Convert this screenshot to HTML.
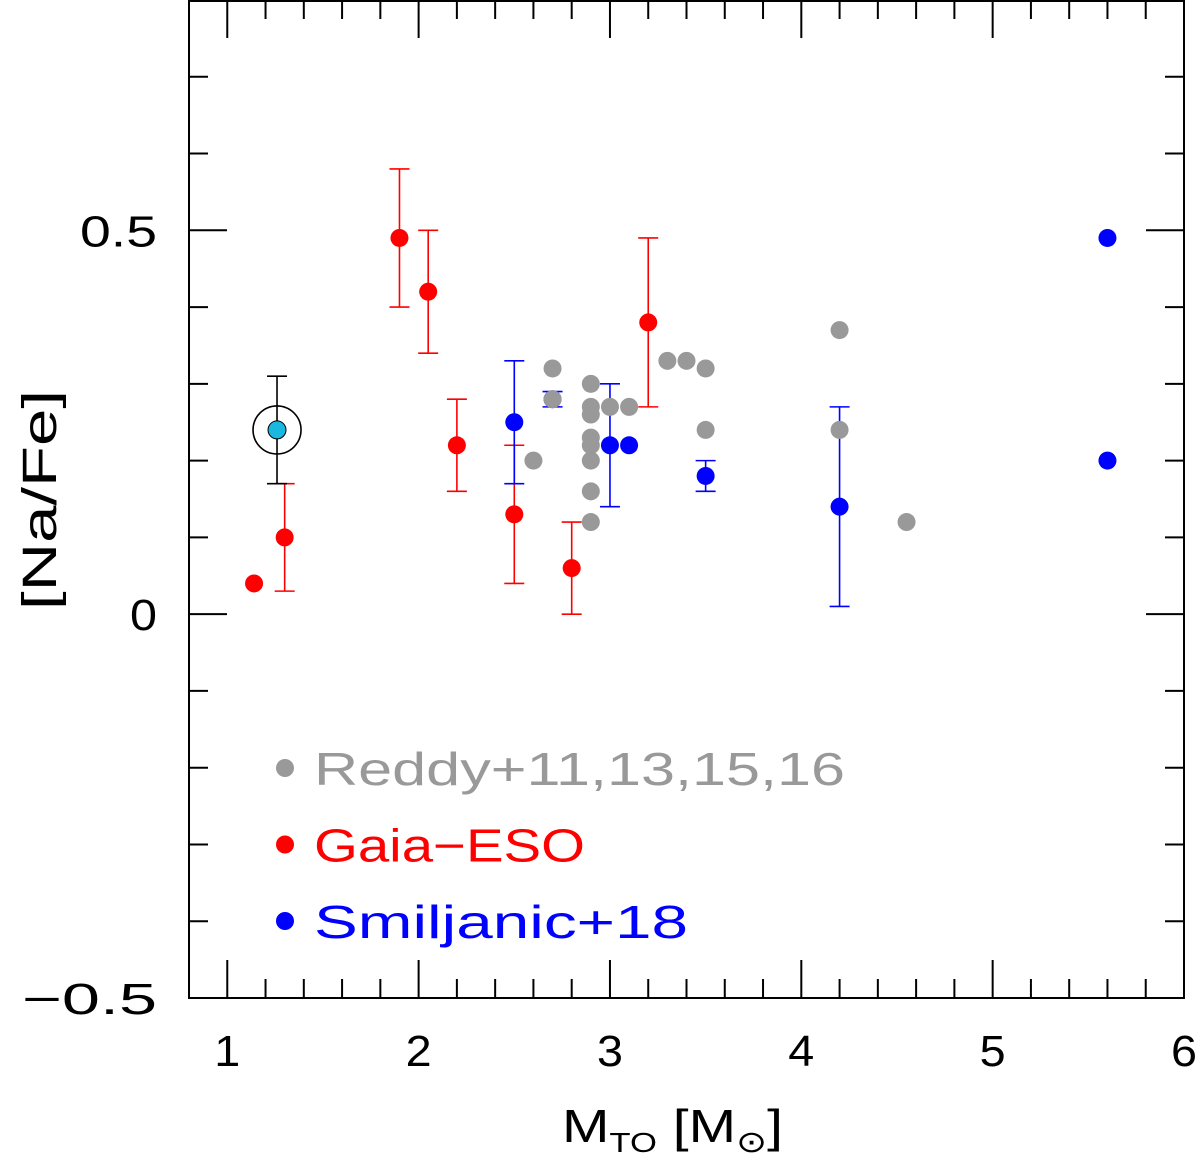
<!DOCTYPE html>
<html><head><meta charset="utf-8"><style>
body{margin:0;background:#fff}
svg text{font-family:"Liberation Sans","DejaVu Sans",sans-serif}
</style></head><body>
<svg id="chart" width="1200" height="1155" xmlns="http://www.w3.org/2000/svg">
<g id="axes"></g>
<g id="marks"></g>
<g id="legend"></g>
</svg>
<script>
const xTicks=[1,2,3,4,5,6];
const yTicks=[-0.5,0,0.5];
const yTickLabels=["\u22120.5","0","0.5"];
const grayX=[2.6,2.7,2.7,2.9,2.9,2.9,2.9,2.9,2.9,2.9,2.9,3.0,3.1,3.3,3.4,3.5,3.5,4.2,4.2,4.55];
const grayY=[0.20,0.32,0.28,0.30,0.27,0.26,0.23,0.22,0.20,0.16,0.12,0.27,0.27,0.33,0.33,0.32,0.24,0.37,0.24,0.12];
const redX=[1.14,1.3,1.9,2.05,2.2,2.5,2.8,3.2];
const redY=[0.04,0.10,0.49,0.42,0.22,0.13,0.06,0.38];
const redLo=[null,0.03,0.40,0.34,0.16,0.04,0.00,0.27];
const redHi=[null,0.17,0.58,0.50,0.28,0.22,0.12,0.49];
const blueX=[2.5,2.7,3.0,3.1,3.5,4.2,5.6,5.6];
const blueY=[0.25,0.28,0.22,0.22,0.18,0.14,0.49,0.20];
const blueLo=[0.17,0.27,0.14,null,0.16,0.01,null,null];
const blueHi=[0.33,0.29,0.30,null,0.20,0.27,null,null];
const sunX=[1.26], sunY=[0.24], sunLo=[0.17], sunHi=[0.31];
const legendLabels=["Reddy+11,13,15,16","Gaia\u2212ESO","Smiljanic+18"];
const legendColors=["#999999","#ff0000","#0000ff"];

const X0=0.8,X1=6.0,Y0=-0.5,Y1=0.8;
const L=189,R=1184,T=0,B=998;
const sx=v=>L+(v-X0)/(X1-X0)*(R-L);
const sy=v=>B-(v-Y0)/(Y1-Y0)*(B-T);
const NS="http://www.w3.org/2000/svg";
function mk(tag,attrs,parent){const e=document.createElementNS(NS,tag);for(const k in attrs)e.setAttribute(k,attrs[k]);parent.appendChild(e);return e;}
const axes=document.getElementById('axes'),marks=document.getElementById('marks'),leg=document.getElementById('legend');
const FONT='"Liberation Sans",sans-serif';

const frame=mk('rect',{x:L,y:T+1,width:R-L,height:B-T-1,fill:'none',stroke:'#000','stroke-width':2},axes);


for(let i=0;i<=26;i++){const v=Math.round((0.8+i*0.2)*10)/10;const x=sx(v);const major=Math.abs(v-Math.round(v))<1e-6;const len=major?38:19;
 const t1=mk('line',{x1:x,x2:x,y1:B,y2:B-len,stroke:'#000','stroke-width':2},axes);
 
 
 const t2=mk('line',{x1:x,x2:x,y1:T,y2:T+len,stroke:'#000','stroke-width':2},axes);
 
 }
for(let i=-5;i<=8;i++){const v=i/10;const y=sy(v);const major=i%5===0;const len=major?38:19;
 const t1=mk('line',{x1:L,x2:L+len,y1:y,y2:y,stroke:'#000','stroke-width':2},axes);
 
 
 const t2=mk('line',{x1:R,x2:R-len,y1:y,y2:y,stroke:'#000','stroke-width':2},axes);
 
 }
xTicks.forEach(v=>{const t=mk('text',{x:sx(v),y:1066,'text-anchor':'middle','font-size':44,textLength:26,lengthAdjust:'spacingAndGlyphs'},axes);t.textContent=v;
 
 });
const yLabW=[135,27,77];
yTicks.forEach((v,i)=>{const t=mk('text',{x:157-yLabW[i],y:sy(v)+16,'font-size':44,textLength:yLabW[i],lengthAdjust:'spacingAndGlyphs'},axes);t.textContent=yTickLabels[i];
 
 });
const xt=mk('text',{x:562,y:1142,'font-size':46,textLength:221,lengthAdjust:'spacingAndGlyphs'},axes);
xt.innerHTML='M<tspan font-size="28" dy="10">TO</tspan><tspan dy="-10"> [M</tspan><tspan font-size="30" dy="10">\u2299</tspan><tspan dy="-10">]</tspan>';


const yt=mk('text',{x:-110,y:0,'font-size':48,textLength:220,lengthAdjust:'spacingAndGlyphs',transform:'translate(56,500) rotate(-90)'},axes);
yt.textContent='[Na/Fe]';



function errbar(x,lo,hi,col,name){const X=sx(x),a=sy(lo),b=sy(hi);
 const g=mk('g',{stroke:col,'stroke-width':1.6},marks);
 
 
 mk('line',{x1:X,x2:X,y1:a,y2:b},g);mk('line',{x1:X-10,x2:X+10,y1:a,y2:a},g);mk('line',{x1:X-10,x2:X+10,y1:b,y2:b},g);}
function dot(x,y,col,name){const c=mk('circle',{cx:sx(x),cy:sy(y),r:9,fill:col},marks);
 
 }
redX.forEach((x,i)=>{if(redLo[i]!=null)errbar(x,redLo[i],redHi[i],'#ff0000','gaia-eso-error-bar');});
blueX.forEach((x,i)=>{if(blueLo[i]!=null)errbar(x,blueLo[i],blueHi[i],'#0000ff','smiljanic-error-bar');});
// blue dot at 2.7 sits beneath the gray point in the reference
blueX.forEach((x,i)=>{if(x===2.7)dot(x,blueY[i],'#0000ff','smiljanic-point');});
grayX.forEach((x,i)=>dot(x,grayY[i],'#999999','reddy-point'));
redX.forEach((x,i)=>dot(x,redY[i],'#ff0000','gaia-eso-point'));
blueX.forEach((x,i)=>{if(x!==2.7)dot(x,blueY[i],'#0000ff','smiljanic-point');});
errbar(sunX[0],sunLo[0],sunHi[0],'#000','cluster-error-bar');
const ring=mk('circle',{cx:sx(sunX[0]),cy:sy(sunY[0]),r:24,fill:'none',stroke:'#000','stroke-width':1.6},marks);


const sc=mk('circle',{cx:sx(sunX[0]),cy:sy(sunY[0]),r:9,fill:'#1ab8e0',stroke:'#000','stroke-width':1},marks);



const legW=[531,271,374];
legendLabels.forEach((lab,i)=>{const y=768+i*76.5;
 const c=mk('circle',{cx:285,cy:y,r:9,fill:legendColors[i]},leg);
 
 
 const t=mk('text',{x:314,y:y+17,'font-size':46,fill:legendColors[i],textLength:legW[i],lengthAdjust:'spacingAndGlyphs'},leg);t.textContent=lab;
 
 });
</script>
</body></html>
